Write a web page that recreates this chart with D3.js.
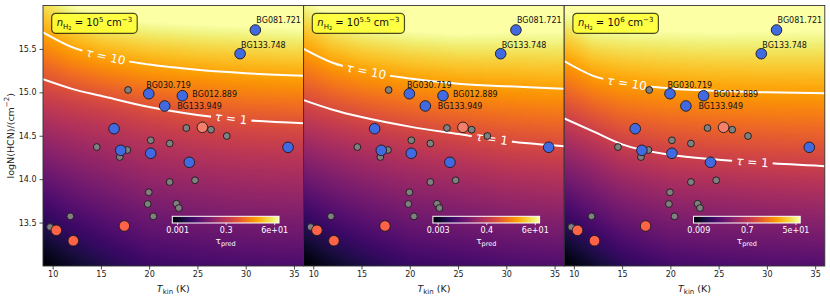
<!DOCTYPE html>
<html>
<head>
<meta charset="utf-8">
<script src="https://cdn.jsdelivr.net/npm/d3@7"></script>
<style>
  html, body { margin: 0; padding: 0; background: #fff; }
  svg { display: block; font-family: "DejaVu Sans", sans-serif; }
  text { white-space: pre; }
</style>
</head>
<body>
<div id="chart"></div>
<script>
// ---- values ----
const densityExp = ['5', '5.5', '6'];

// sources: T_kin (K), log N(HCN) (cm^-2)
const blueNames = ['BG081.721', 'BG133.748', 'BG030.719', 'BG012.889', 'BG133.949', '', '', '', '', ''];
const blueT = [31.00, 29.42, 19.96, 23.44, 21.61, 16.36, 34.39, 17.05, 20.16, 24.16];
const blueN = [15.718, 15.445, 14.984, 14.961, 14.843, 14.581, 14.367, 14.332, 14.298, 14.194];
const redT = [10.38, 12.14, 17.43];
const redN = [13.411, 13.291, 13.461];
const salmonT = [25.51];
const salmonN = [14.597];
const grayT = [17.81, 23.85, 26.41, 28.04, 14.57, 20.16, 22.13, 17.74, 16.95, 22.13, 24.75, 19.96, 19.85, 22.82, 23.07, 11.83, 20.43, 9.73];
const grayN = [15.027, 14.589, 14.570, 14.497, 14.370, 14.448, 14.411, 14.336, 14.255, 13.967, 13.987, 13.849, 13.714, 13.717, 13.668, 13.572, 13.572, 13.449];

// tau = 1 and tau = 10 contours (log N at the knot temperatures), one row per panel
const knotT = [9, 12, 15, 20, 25, 30, 36];
const tau1N = [
  [15.15, 15.04, 14.96, 14.83, 14.74, 14.68, 14.645],
  [14.91, 14.80, 14.715, 14.605, 14.52, 14.44, 14.38],
  [14.70, 14.55, 14.40, 14.28, 14.225, 14.185, 14.15]
];
const tau10N = [
  [15.69, 15.52, 15.42, 15.32, 15.26, 15.22, 15.19],
  [15.50, 15.34, 15.25, 15.16, 15.10, 15.07, 15.04],
  [15.36, 15.19, 15.11, 15.045, 15.015, 15.00, 14.99]
];
const contourNames = ['1', '10'];
const labelT = [28.5, 15.5];

// colour bar range (log10 tau) and its tick labels
const logTauMin = [-3.115, -2.8, -2.215];
const logTauMax = [2.015, 2.0, 1.875];
const cbTickLabels = [['0.001', '0.3', '6e+01'], ['0.003', '0.4', '6e+01'], ['0.009', '0.7', '5e+01']];
// slope of log tau against log N well below tau = 1, at 9 K
const lowSlope = [1.44, 1.47, 1.30];

const xTicks = [10, 15, 20, 25, 30, 35];
const yTicks = [13.5, 14.0, 14.5, 15.0, 15.5];

// ---- layout ----
const W = 830, H = 298;
const margin = { top: 5.5, left: 43 };
const pw = 260.6, ph = 260.5;
const ink = '#222';

const svg = d3.select('#chart').append('svg').attr('width', W).attr('height', H);
const defs = svg.append('defs');

const x = d3.scaleLinear().domain([9, 36]).range([0, pw]);
const y = d3.scaleLinear().domain([13, 16]).range([ph, 0]);

const grad = defs.append('linearGradient').attr('id', 'cbgrad');
d3.range(0, 1.0001, 0.05).forEach(t => {
  grad.append('stop').attr('offset', t).attr('stop-color', d3.interpolateInferno(t));
});

const labelOffset = {
  'BG081.721': [1, -7],
  'BG133.748': [1, -6],
  'BG030.719': [-2.5, -6],
  'BG012.889': [10, 1.5],
  'BG133.949': [12.5, 3]
};

for (let p = 0; p < 3; p++) {
  const g = svg.append('g').attr('transform', `translate(${margin.left + p * pw},${margin.top})`);

  defs.append('clipPath').attr('id', `clip${p}`)
    .append('rect').attr('width', pw).attr('height', ph);

  const c1 = d3.scaleLinear().domain(knotT).range(tau1N[p]);
  const c10 = d3.scaleLinear().domain(knotT).range(tau10N[p]);
  const color = d3.scaleSequential(d3.interpolateInferno)
    .domain([logTauMin[p], logTauMax[p]]).clamp(true);

  function logTau(T, N) {
    const a = c1(T), b = c10(T);
    const k0 = 1 / (b - a);
    const u = N - a;
    if (u >= 0) return u * k0;
    const f = Math.max(0, Math.min(1, Math.log10(T / 9) / Math.log10(20 / 9)));
    const kL = lowSlope[p] * (1 - 0.18 * f);
    return u * (kL + (k0 - kL) * Math.exp(u / 0.4));
  }

  // background map of predicted tau
  const cw = Math.round(pw), chh = Math.round(ph);
  const canvas = document.createElement('canvas');
  canvas.width = cw; canvas.height = chh;
  const ctx = canvas.getContext('2d');
  const img = ctx.createImageData(cw, chh);
  for (let j = 0; j < chh; j++) {
    const N = y.invert((j + 0.5) * ph / chh);
    for (let i = 0; i < cw; i++) {
      const T = x.invert((i + 0.5) * pw / cw);
      const c = d3.rgb(color(logTau(T, N)));
      const k = (j * cw + i) * 4;
      img.data[k] = c.r; img.data[k + 1] = c.g; img.data[k + 2] = c.b; img.data[k + 3] = 255;
    }
  }
  ctx.putImageData(img, 0, 0);
  g.append('image')
    .attr('href', canvas.toDataURL())
    .attr('width', pw).attr('height', ph)
    .attr('preserveAspectRatio', 'none');

  // contours with inline labels
  const mask = defs.append('mask').attr('id', `mask${p}`)
    .attr('maskUnits', 'userSpaceOnUse')
    .attr('x', -5).attr('y', -5).attr('width', pw + 10).attr('height', ph + 10);
  mask.append('rect').attr('x', -5).attr('y', -5).attr('width', pw + 10).attr('height', ph + 10).attr('fill', 'white');

  const cg = g.append('g').attr('clip-path', `url(#clip${p})`);
  const lineGen = d3.line().x(d => x(d[0])).y(d => y(d[1])).curve(d3.curveMonotoneX);
  const levels = [tau1N[p], tau10N[p]];
  const levelScales = [c1, c10];

  cg.selectAll('path.contour')
    .data(levels)
    .join('path')
    .attr('class', 'contour')
    .attr('d', row => lineGen(knotT.map((t, i) => [t, row[i]])))
    .attr('fill', 'none')
    .attr('stroke', 'white')
    .attr('stroke-width', 2)
    .attr('mask', `url(#mask${p})`);

  levelScales.forEach((sc, l) => {
    const T0 = labelT[l];
    const px = x(T0), py = y(sc(T0));
    const ang = Math.atan2(y(sc(T0 + 1.5)) - y(sc(T0 - 1.5)), x(T0 + 1.5) - x(T0 - 1.5)) * 180 / Math.PI;
    const tr = `translate(${px},${py}) rotate(${ang})`;
    const txt = g.append('text')
      .attr('transform', tr)
      .attr('text-anchor', 'middle')
      .attr('dominant-baseline', 'central')
      .attr('font-size', 12)
      .attr('fill', 'white');
    txt.append('tspan').attr('font-style', 'italic').text('τ');
    txt.append('tspan').text(' = ' + contourNames[l]);
    const tw = txt.node().getComputedTextLength();
    mask.append('rect')
      .attr('transform', tr)
      .attr('x', -tw / 2 - 4).attr('y', -6)
      .attr('width', tw + 8).attr('height', 12)
      .attr('fill', 'black');
  });

  // sources
  const pg = g.append('g');
  const drawPts = (Ts, Ns, r, fill) => {
    pg.selectAll(null)
      .data(Ts.map((t, i) => [t, Ns[i]]))
      .join('circle')
      .attr('cx', d => x(d[0]))
      .attr('cy', d => y(d[1]))
      .attr('r', r)
      .attr('fill', fill)
      .attr('stroke', '#1a1a1a')
      .attr('stroke-width', 0.9);
  };
  drawPts(grayT, grayN, 3.4, '#808080');
  drawPts(blueT, blueN, 5.3, '#4169e1');
  drawPts(salmonT, salmonN, 5.3, '#f4806c');
  drawPts(redT, redN, 5.3, '#ff6347');

  blueNames.forEach((name, i) => {
    if (!name) return;
    const off = labelOffset[name];
    g.append('text')
      .attr('x', x(blueT[i]) + off[0])
      .attr('y', y(blueN[i]) + off[1])
      .attr('font-size', 8)
      .attr('fill', '#111')
      .text(name);
  });

  // density box
  const box = g.append('g');
  const bt = box.append('text').attr('x', 13.7).attr('y', 20.8).attr('font-size', 10).attr('fill', '#111');
  bt.append('tspan').attr('font-style', 'italic').text('n');
  bt.append('tspan').attr('font-size', 7).attr('dy', 2.5).text('H');
  bt.append('tspan').attr('font-size', 5).attr('dy', 1.3).text('2');
  bt.append('tspan').attr('font-size', 10).attr('dy', -3.8).text(' = 10');
  bt.append('tspan').attr('font-size', 7).attr('dy', -4).text(densityExp[p]);
  bt.append('tspan').attr('font-size', 10).attr('dy', 4).text(' cm');
  bt.append('tspan').attr('font-size', 7).attr('dy', -4).text('−3');
  const bb = bt.node().getBBox();
  box.insert('rect', 'text')
    .attr('x', bb.x - 5).attr('y', 7.8)
    .attr('width', bb.width + 10).attr('height', 20)
    .attr('rx', 4)
    .attr('fill', '#ffff33').attr('fill-opacity', 0.85)
    .attr('stroke', 'black').attr('stroke-opacity', 0.7).attr('stroke-width', 1.2);

  // colour bar
  const cbX = 129.3, cbY = 210.8, cbW = 106.7, cbH = 6.7;
  const lo = logTauMin[p], hi = logTauMax[p], rng = hi - lo;
  const cbScale = d3.scaleLinear().domain([lo, hi]).range([cbX, cbX + cbW]);
  const cbVals = [lo + 0.045 * rng, (lo + hi) / 2, hi - 0.045 * rng];
  g.append('rect')
    .attr('x', cbX).attr('y', cbY).attr('width', cbW).attr('height', cbH)
    .attr('fill', 'url(#cbgrad)')
    .attr('stroke', 'white').attr('stroke-width', 1);
  const cbAxis = g.append('g')
    .attr('transform', `translate(0,${cbY + cbH})`)
    .call(d3.axisBottom(cbScale).tickValues(cbVals).tickSize(2.2).tickPadding(2.5)
      .tickFormat((d, i) => cbTickLabels[p][i]));
  cbAxis.select('.domain').remove();
  cbAxis.selectAll('line').attr('stroke', 'white').attr('stroke-width', 0.8);
  cbAxis.selectAll('text').attr('fill', 'white').attr('font-size', 8).attr('font-family', 'DejaVu Sans');
  const cl = g.append('text')
    .attr('x', cbX + cbW / 2).attr('y', cbY + cbH + 20.5)
    .attr('text-anchor', 'middle').attr('font-size', 9).attr('fill', 'white');
  cl.append('tspan').text('τ');
  cl.append('tspan').attr('font-size', 6.5).attr('dy', 2.5).text('pred');

  // frame
  g.append('rect').attr('width', pw).attr('height', ph)
    .attr('fill', 'none').attr('stroke', '#333').attr('stroke-width', 0.9);

  // axes
  const xa = g.append('g').attr('transform', `translate(0,${ph})`)
    .call(d3.axisBottom(x).tickValues(xTicks).tickSize(3.5).tickPadding(2));
  xa.select('.domain').remove();
  xa.selectAll('line').attr('stroke', ink).attr('stroke-width', 0.8);
  xa.selectAll('text').attr('fill', ink).attr('font-size', 8).attr('font-family', 'DejaVu Sans');

  const xl = g.append('text')
    .attr('x', pw / 2).attr('y', ph + 25.5)
    .attr('text-anchor', 'middle').attr('font-size', 9.5).attr('fill', ink);
  xl.append('tspan').attr('font-style', 'italic').text('T');
  xl.append('tspan').attr('font-size', 7).attr('dy', 2.5).text('kin');
  xl.append('tspan').attr('font-size', 9.5).attr('dy', -2.5).text(' (K)');

  if (p === 0) {
    const ya = g.append('g')
      .call(d3.axisLeft(y).tickValues(yTicks).tickSize(3.5).tickPadding(3).tickFormat(d3.format('.1f')));
    ya.select('.domain').remove();
    ya.selectAll('line').attr('stroke', ink).attr('stroke-width', 0.8);
    ya.selectAll('text').attr('fill', ink).attr('font-size', 8).attr('font-family', 'DejaVu Sans');
  }
}

// y label
const yl = svg.append('text')
  .attr('transform', `translate(10,${margin.top + ph / 2}) rotate(-90)`)
  .attr('text-anchor', 'middle')
  .attr('dominant-baseline', 'central')
  .attr('font-size', 9.5).attr('fill', ink);
yl.append('tspan').text('logN(HCN)/(cm');
yl.append('tspan').attr('font-size', 7).attr('dy', -3.5).text('−2');
yl.append('tspan').attr('font-size', 9.5).attr('dy', 3.5).text(')');
</script>
</body>
</html>
